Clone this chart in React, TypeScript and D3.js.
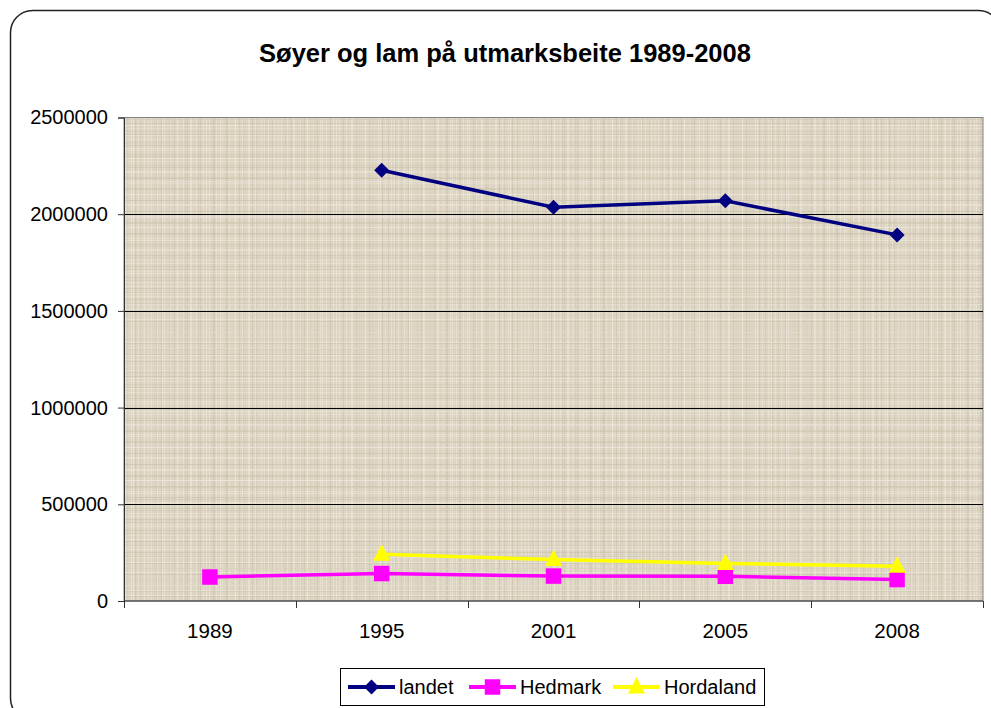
import React, { useRef, useEffect } from "react";
import * as d3 from "d3";

const years = ["1989", "1995", "2001", "2005", "2008"];
const landet = [null, 2227000, 2036000, 2069000, 1893000];
const hedmark = [124000, 142000, 129000, 128000, 111000];
const hordaland = [null, 242000, 214000, 194000, 180000];
const yTicks = [0, 500000, 1000000, 1500000, 2000000, 2500000];

const series = [
  { name: "landet", values: landet, color: "#000080", shape: "diamond" },
  { name: "Hedmark", values: hedmark, color: "#ff00ff", shape: "square" },
  { name: "Hordaland", values: hordaland, color: "#ffff00", shape: "triangle" },
];

const width = 991;
const height = 708;
const plot = { left: 124, right: 983, top: 117.5, bottom: 601 };
const font = "'Liberation Sans', Arial, sans-serif";

function symbolFor(shape: string) {
  if (shape === "diamond") return "M0,-7.5L7.5,0L0,7.5L-7.5,0Z";
  if (shape === "square") return d3.symbol(d3.symbolSquare, 240)();
  return "M0,-10L8.5,6.5L-8.5,6.5Z";
}

const App = () => {
  const ref = useRef<SVGSVGElement>(null);

  useEffect(() => {
    const svg = d3.select(ref.current);
    svg.selectAll("*").remove();

    const x = d3.scaleBand().domain(years).range([plot.left, plot.right]);
    const y = d3.scaleLinear().domain([0, 2500000]).range([plot.bottom, plot.top]);

    // linen texture: two thin-line patterns with different periods laid over each other
    const defs = svg.append("defs");
    const weave = (id: string, w: number, h: number, cols: number[], rows: number[], dark: string, light: string) => {
      const p = defs.append("pattern").attr("id", id)
        .attr("patternUnits", "userSpaceOnUse").attr("width", w).attr("height", h);
      cols.forEach((v, i) =>
        p.append("rect").attr("x", v).attr("y", 0).attr("width", 1).attr("height", h)
          .attr("fill", i % 2 ? dark : light).attr("opacity", 0.55));
      rows.forEach((v, i) =>
        p.append("rect").attr("x", 0).attr("y", v).attr("width", w).attr("height", 1)
          .attr("fill", i % 2 ? light : dark).attr("opacity", 0.5));
    };
    weave("weaveA", 13, 11, [1, 5, 8], [2, 7], "#c8bea8", "#eee8db");
    weave("weaveB", 29, 23, [3, 11, 17, 24], [4, 10, 16, 20], "#cfc5b0", "#f0ebdf");

    // chart frame
    svg.append("rect")
      .attr("x", 10.5).attr("y", 10.5)
      .attr("width", 990).attr("height", 710)
      .attr("rx", 22)
      .attr("fill", "white")
      .attr("stroke", "#222")
      .attr("stroke-width", 1.5);

    svg.append("text")
      .attr("x", 505).attr("y", 62)
      .attr("text-anchor", "middle")
      .attr("font-family", font)
      .attr("font-weight", "bold")
      .attr("font-size", 25.5)
      .text("Søyer og lam på utmarksbeite 1989-2008");

    const bg = svg.append("g");
    ["#ddd5c3", "url(#weaveA)", "url(#weaveB)"].forEach((f) =>
      bg.append("rect")
        .attr("x", plot.left).attr("y", plot.top)
        .attr("width", plot.right - plot.left).attr("height", plot.bottom - plot.top)
        .attr("fill", f)
    );
    bg.append("rect")
      .attr("x", plot.left).attr("y", plot.top)
      .attr("width", plot.right - plot.left).attr("height", plot.bottom - plot.top)
      .attr("fill", "none")
      .attr("stroke", "#808080");

    // gridlines
    svg.append("g")
      .selectAll("line")
      .data(yTicks.slice(1, -1))
      .join("line")
      .attr("x1", plot.left).attr("x2", plot.right)
      .attr("y1", (d) => Math.round(y(d)) + 0.5).attr("y2", (d) => Math.round(y(d)) + 0.5)
      .attr("stroke", "#000");

    // y axis
    const yAxis = svg.append("g")
      .attr("transform", `translate(${plot.left},0)`)
      .call(d3.axisLeft(y).tickValues(yTicks).tickSize(6).tickPadding(10).tickFormat((d) => String(d)));
    yAxis.select(".domain").attr("stroke", "#333");
    yAxis.selectAll("line").attr("stroke", "#333");
    yAxis.selectAll("text").attr("font-family", font).attr("font-size", 20).attr("fill", "#000");

    // x axis
    const xAxis = svg.append("g").attr("transform", `translate(0,${plot.bottom})`);
    xAxis.append("line")
      .attr("x1", plot.left).attr("x2", plot.right)
      .attr("stroke", "#333");
    const bounds = years.map((d) => x(d)!).concat([plot.right]);
    xAxis.selectAll(".tk").data(bounds).join("line")
      .attr("x1", (d) => Math.round(d) + 0.5).attr("x2", (d) => Math.round(d) + 0.5)
      .attr("y1", 0).attr("y2", 7)
      .attr("stroke", "#333");
    xAxis.selectAll("text").data(years).join("text")
      .attr("x", (d) => x(d)! + x.bandwidth() / 2)
      .attr("y", 37)
      .attr("text-anchor", "middle")
      .attr("font-family", font)
      .attr("font-size", 20.5)
      .text((d) => d);

    // series
    const line = d3.line<[string, number | null]>()
      .defined((d) => d[1] != null)
      .x((d) => x(d[0])! + x.bandwidth() / 2)
      .y((d) => y(d[1] as number));

    series.forEach((s) => {
      const pts = years.map((yr, i) => [yr, s.values[i]] as [string, number | null]);
      svg.append("path")
        .datum(pts)
        .attr("d", line)
        .attr("fill", "none")
        .attr("stroke", s.color)
        .attr("stroke-width", 3.5);
      svg.append("g")
        .selectAll("path")
        .data(pts.filter((p) => p[1] != null))
        .join("path")
        .attr("d", symbolFor(s.shape))
        .attr("transform", (p) => `translate(${x(p[0])! + x.bandwidth() / 2},${y(p[1] as number)})`)
        .attr("fill", s.color);
    });

    // legend
    const lg = svg.append("g");
    lg.append("rect")
      .attr("x", 340.5).attr("y", 668.5)
      .attr("width", 424).attr("height", 37)
      .attr("fill", "white")
      .attr("stroke", "#000");
    const offsets = [348, 469, 613];
    series.forEach((s, i) => {
      const ox = offsets[i];
      lg.append("line")
        .attr("x1", ox).attr("x2", ox + 47)
        .attr("y1", 687).attr("y2", 687)
        .attr("stroke", s.color).attr("stroke-width", 4);
      lg.append("path")
        .attr("d", symbolFor(s.shape))
        .attr("transform", `translate(${ox + 23.5},687)`)
        .attr("fill", s.color);
      lg.append("text")
        .attr("x", ox + 51).attr("y", 694)
        .attr("font-family", font)
        .attr("font-size", 20)
        .text(s.name);
    });
  }, []);

  return (
    <svg
      ref={ref}
      width={width}
      height={height}
      style={{ position: "absolute", left: 0, top: 0, background: "white" }}
    />
  );
};

export default App;
